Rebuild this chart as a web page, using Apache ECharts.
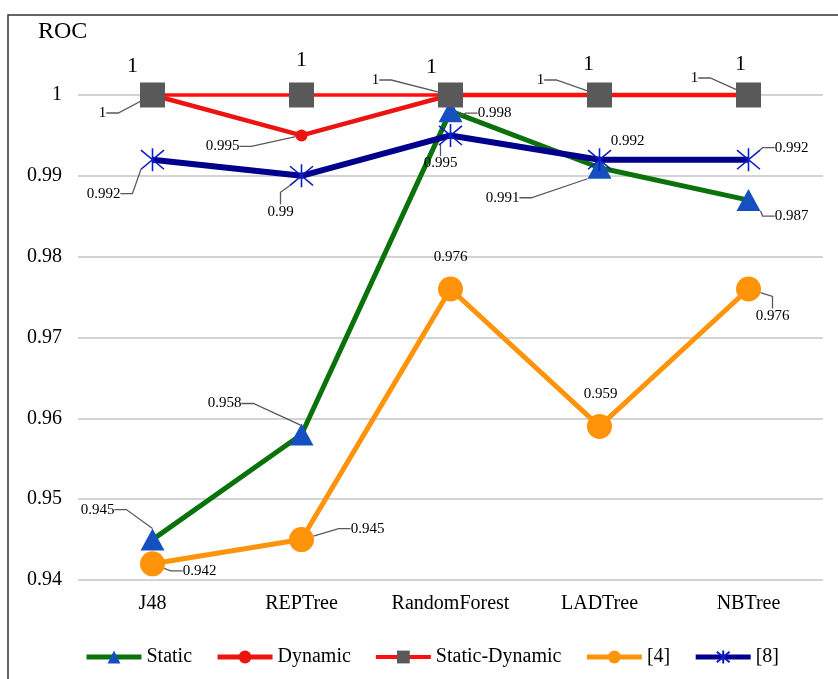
<!DOCTYPE html>
<html>
<head>
<meta charset="utf-8">
<script src="https://cdn.jsdelivr.net/npm/echarts@6/dist/echarts.min.js"></script>
<style>
  html, body { margin: 0; padding: 0; background: #fff; }
  #chart { width: 838px; height: 679px; }
</style>
</head>
<body>
<div id="chart"></div>
<script>
// Classifiers on the x axis
const categories = ['J48', 'REPTree', 'RandomForest', 'LADTree', 'NBTree'];

// ROC values per approach
const staticRoc        = [0.945, 0.958, 0.998, 0.991, 0.987];
const dynamicRoc       = [1, 0.995, 1, 1, 1];
const staticDynamicRoc = [1, 1, 1, 1, 1];
const ref4Roc          = [0.942, 0.945, 0.976, 0.959, 0.976];
const ref8Roc          = [0.992, 0.99, 0.995, 0.992, 0.992];

// y-axis ticks
const yMin = 0.94, yMax = 1.0, yStep = 0.01;

const FONT = '"Liberation Serif", "Times New Roman", serif';

// label placement: offset of the label centre from its point, and whether a leader line is drawn
const labelPlacement = {
  static:        [[-55, -30, 1], [-77, -31, 1], [44, 2, 1], [-97, 30, 1], [43, 16, 1]],
  dynamic:       [[-50, 18, 1], [-79, 11, 1], [-75, -15, 1], [-59, -15, 1], [-54, -17, 1]],
  staticDynamic: [[-20, -29, 0], [0, -35, 0], [-19, -28, 0], [-11, -31, 0], [-8, -31, 0]],
  ref4:          [[47, 7, 1], [66, -11, 1], [0, -32, 0], [1, -32, 0], [24, 27, 1]],
  ref8:          [[-49, 34, 1], [-21, 36, 1], [-10, 28, 1], [28, -19, 0], [43, -12, 1]]
};

function items(values, place) {
  return values.map((v, i) => ({
    value: v,
    labelLine: { show: !!place[i][2] }
  }));
}

function layoutFor(place) {
  return function (params) {
    const p = place[params.dataIndex];
    return { dx: p[0], dy: p[1] };
  };
}

const leader = { show: true, length2: 12, lineStyle: { color: '#595959', width: 1.3 } };

function lineSeries(name, values, place, opts) {
  return Object.assign({
    name: name,
    type: 'line',
    data: items(values, place),
    clip: false,
    label: {
      show: true,
      position: 'inside',
      color: '#000',
      fontFamily: FONT,
      fontSize: 15,
      formatter: p => String(p.value)
    },
    labelLine: leader,
    labelLayout: layoutFor(place)
  }, opts);
}

const asterisk = 'path://M0,0L20,20M20,0L0,20M10,-2L10,22';

const chart = echarts.init(document.getElementById('chart'));

chart.setOption({
  backgroundColor: '#fff',
  animation: false,
  textStyle: { fontFamily: FONT },
  grid: { left: 78, right: 15, top: 95, bottom: 99 },
  graphic: [
    {
      type: 'rect',
      shape: { x: 8, y: 15, width: 900, height: 900 },
      style: { fill: 'none', stroke: '#333', lineWidth: 1.5 },
      silent: true
    },
    {
      type: 'text',
      left: 38,
      top: 20,
      style: { text: 'ROC', font: '24px ' + FONT, fill: '#000' }
    }
  ],
  legend: {
    top: 642,
    left: 79,
    itemWidth: 55,
    itemHeight: 16,
    itemGap: 23,
    textStyle: { fontFamily: FONT, fontSize: 20, color: '#000' },
    data: [
      { name: 'Static', lineStyle: { width: 5 } },
      { name: 'Dynamic', lineStyle: { width: 5 } },
      { name: 'Static-Dynamic', lineStyle: { width: 4 } },
      { name: '[4]', lineStyle: { width: 5 } },
      { name: '[8]', lineStyle: { width: 5 } }
    ]
  },
  xAxis: {
    type: 'category',
    data: categories,
    boundaryGap: true,
    axisLine: { show: false },
    axisTick: { show: false },
    axisLabel: { interval: 0, color: '#000', fontFamily: FONT, fontSize: 20, margin: 14 }
  },
  yAxis: {
    type: 'value',
    min: yMin,
    max: yMax,
    interval: yStep,
    axisLine: { show: false },
    axisTick: { show: false },
    axisLabel: {
      color: '#000', fontFamily: FONT, fontSize: 20, margin: 16,
      formatter: v => String(Number(v.toFixed(2)))
    },
    splitLine: { lineStyle: { color: '#c4c4c4', width: 1.5 } }
  },
  series: [
    lineSeries('Static', staticRoc, labelPlacement.static, {
      symbol: 'triangle',
      symbolSize: [24, 22],
      lineStyle: { color: '#0b720b', width: 5 },
      itemStyle: { color: '#1550c0' }
    }),
    lineSeries('Dynamic', dynamicRoc, labelPlacement.dynamic, {
      symbol: 'circle',
      symbolSize: 12,
      lineStyle: { color: '#ec1410', width: 4.5 },
      itemStyle: { color: '#ec1410' }
    }),
    lineSeries('Static-Dynamic', staticDynamicRoc, labelPlacement.staticDynamic, {
      symbol: 'rect',
      symbolSize: 25,
      lineStyle: { color: '#ff0f0f', width: 3.5 },
      itemStyle: { color: '#595959' },
      label: {
        show: true, position: 'inside', color: '#000',
        fontFamily: FONT, fontSize: 22, formatter: p => String(p.value)
      }
    }),
    lineSeries('[4]', ref4Roc, labelPlacement.ref4, {
      symbol: 'circle',
      symbolSize: 25,
      lineStyle: { color: '#ff930a', width: 5 },
      itemStyle: { color: '#ff930a' }
    }),
    lineSeries('[8]', ref8Roc, labelPlacement.ref8, {
      symbol: asterisk,
      symbolSize: 23,
      lineStyle: { color: '#00008c', width: 6 },
      itemStyle: { color: 'rgba(0,0,0,0)', borderColor: '#0a1ec8', borderWidth: 1.6 }
    })
  ]
});
</script>
</body>
</html>
